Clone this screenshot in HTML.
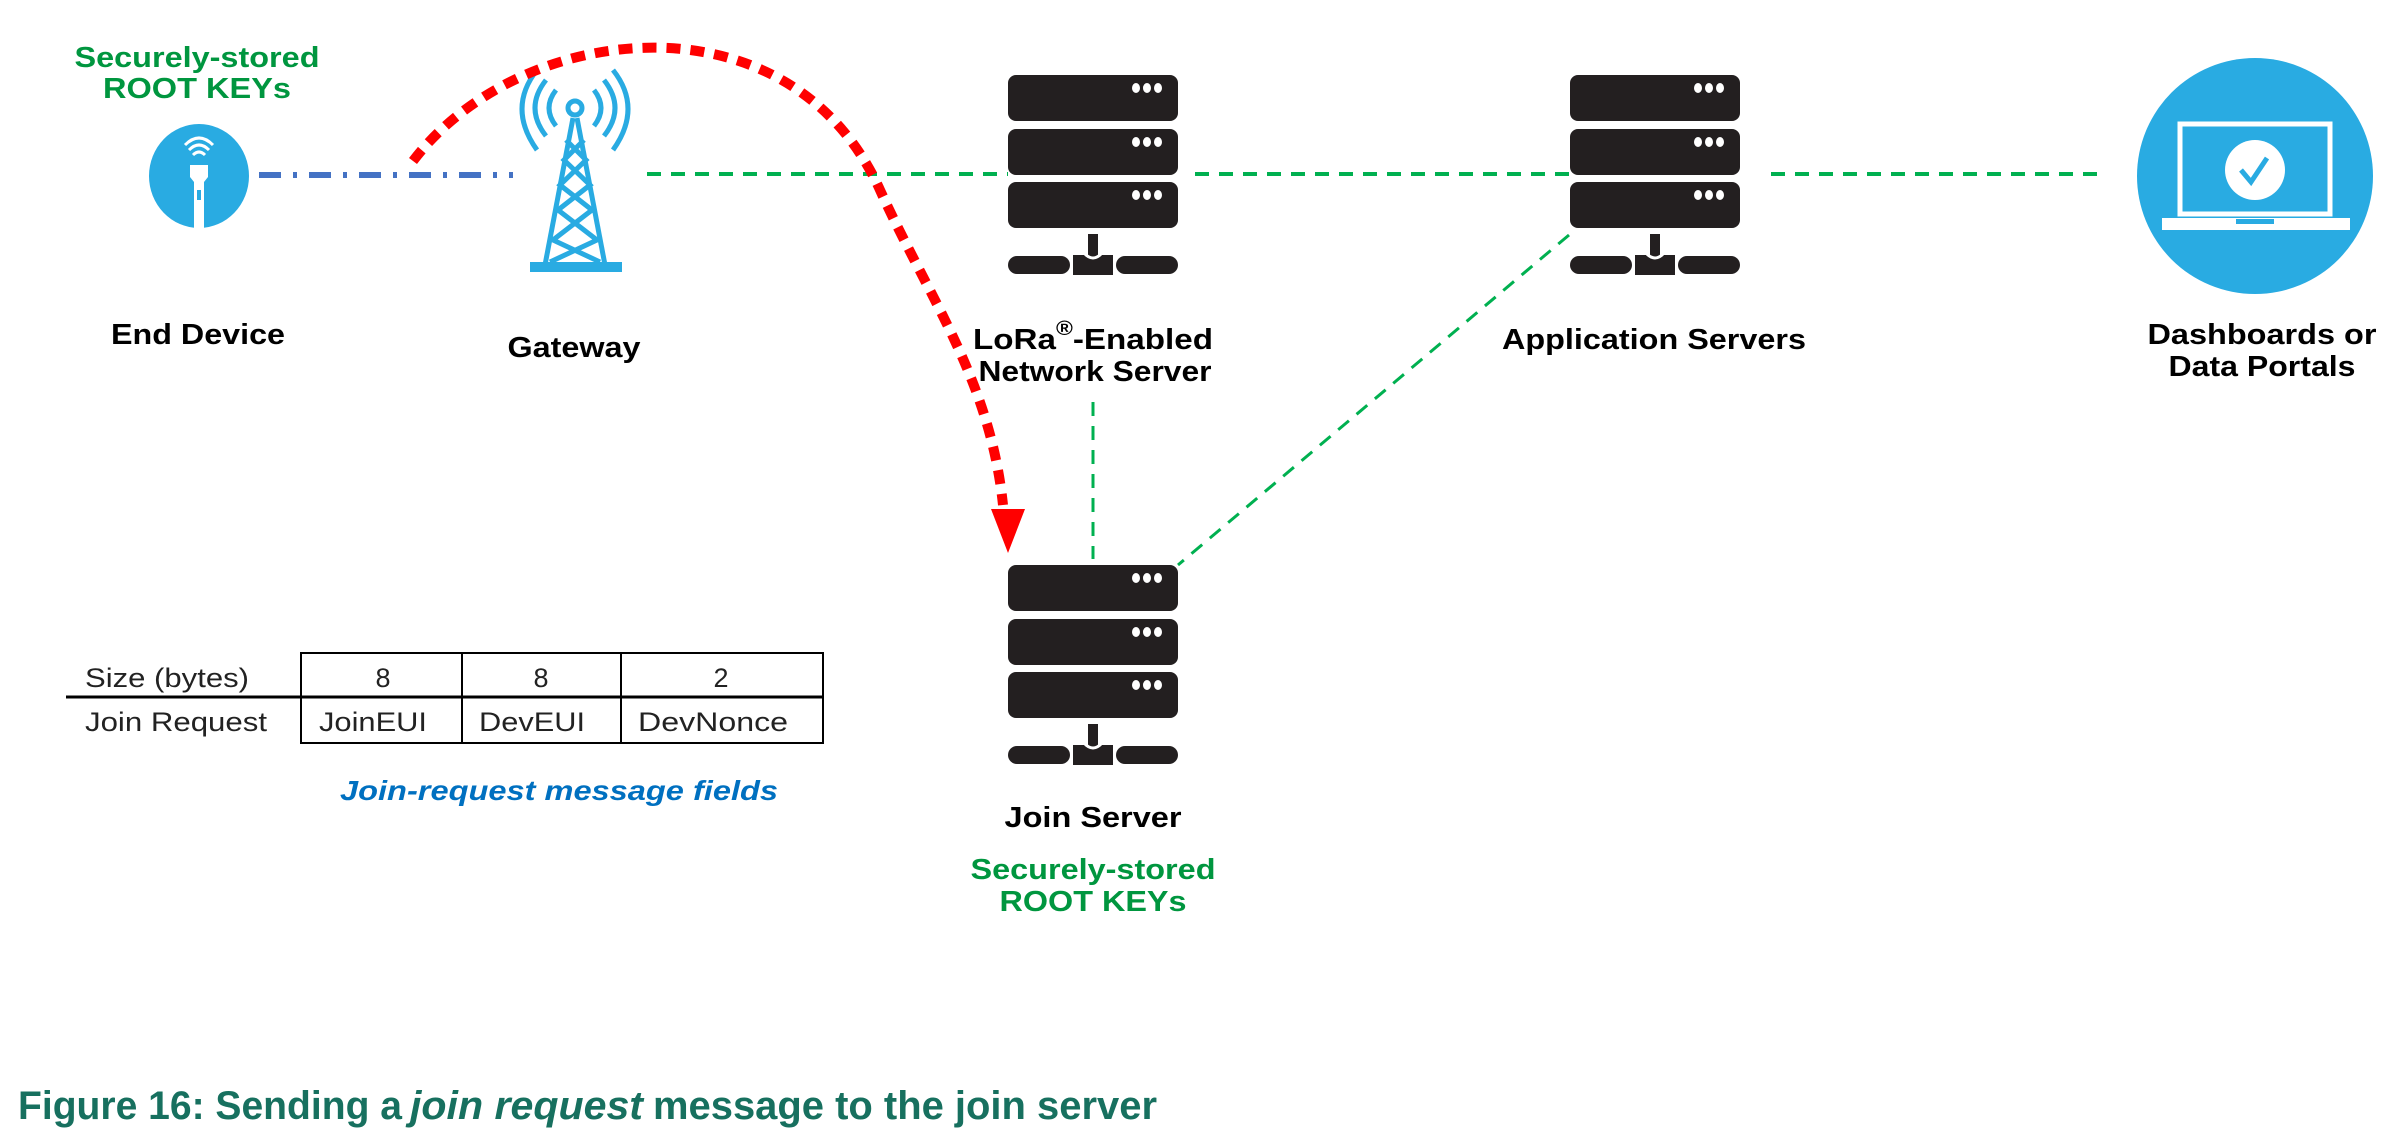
<!DOCTYPE html>
<html><head><meta charset="utf-8"><style>
html,body{margin:0;padding:0;background:#fff;width:2406px;height:1142px;overflow:hidden}
svg{display:block}
.b{font-family:"Liberation Sans",sans-serif;font-weight:bold}
</style></head><body>
<svg width="2406" height="1142" viewBox="0 0 2406 1142" xmlns="http://www.w3.org/2000/svg">
<defs>
<g id="srv">
 <rect x="0" y="0" width="170" height="46" rx="8" fill="#231f20"/>
 <rect x="0" y="54" width="170" height="46" rx="8" fill="#231f20"/>
 <rect x="0" y="107" width="170" height="46" rx="8" fill="#231f20"/>
 <g fill="#fff">
  <ellipse cx="128" cy="13" rx="4" ry="5"/><ellipse cx="139" cy="13" rx="4" ry="5"/><ellipse cx="150" cy="13" rx="4" ry="5"/>
  <ellipse cx="128" cy="67" rx="4" ry="5"/><ellipse cx="139" cy="67" rx="4" ry="5"/><ellipse cx="150" cy="67" rx="4" ry="5"/>
  <ellipse cx="128" cy="120" rx="4" ry="5"/><ellipse cx="139" cy="120" rx="4" ry="5"/><ellipse cx="150" cy="120" rx="4" ry="5"/>
 </g>
 <rect x="80" y="159" width="10" height="24" fill="#231f20"/>
 <rect x="0" y="181" width="62" height="18" rx="9" fill="#231f20"/>
 <rect x="108" y="181" width="62" height="18" rx="9" fill="#231f20"/>
 <path d="M65,180 h40 v20 h-40 z" fill="#231f20"/>
 <path d="M76,178 q9,10 18,0" stroke="#fff" stroke-width="3" fill="none"/>
</g>
</defs>

<!-- connectors -->
<line x1="259" y1="175" x2="513" y2="175" stroke="#4472c4" stroke-width="6" stroke-dasharray="22,12,4,12"/>
<line x1="647" y1="174" x2="1008" y2="174" stroke="#00b050" stroke-width="4" stroke-dasharray="14,10"/>
<line x1="1195" y1="174" x2="1569" y2="174" stroke="#00b050" stroke-width="4" stroke-dasharray="14,10"/>
<line x1="1771" y1="174" x2="2104" y2="174" stroke="#00b050" stroke-width="4" stroke-dasharray="14,10"/>
<line x1="1093" y1="402" x2="1093" y2="559" stroke="#00b050" stroke-width="3" stroke-dasharray="14,10"/>
<line x1="1569" y1="235" x2="1178" y2="565" stroke="#00b050" stroke-width="3" stroke-dasharray="14,10"/>

<!-- end device -->
<ellipse cx="199" cy="176" rx="50" ry="52" fill="#29abe2"/>
<g fill="none" stroke="#fff" stroke-width="3">
 <path d="M189,150 q10,-10 20,0"/><path d="M193,155 q6,-6 12,0"/><path d="M185,145 q14,-14 28,0"/>
</g>
<path d="M190,165 h18 v12 l-4,5 v46 h-10 v-46 l-4,-5 z" fill="#fff"/>
<rect x="197" y="190" width="4" height="10" fill="#29abe2"/>

<!-- tower -->
<g stroke="#29abe2" stroke-width="5" fill="none">
 <circle cx="575" cy="108" r="7"/>
 <line x1="573" y1="118" x2="545" y2="265"/><line x1="577" y1="118" x2="605" y2="265"/>
 <path d="M566,140 L586,160 L560,185 L592,210 L553,240 L600,262"/>
 <path d="M584,140 L564,160 L590,185 L558,210 L597,240 L550,262"/>
 <path d="M556,90 q-14,18 0,36"/><path d="M594,90 q14,18 0,36"/>
 <path d="M546,80 q-22,28 0,56"/><path d="M604,80 q22,28 0,56"/>
 <path d="M537,70 q-30,38 0,80"/><path d="M613,70 q30,38 0,80"/>
</g>
<rect x="530" y="262" width="92" height="10" fill="#29abe2"/>

<!-- servers -->
<use href="#srv" x="1008" y="75"/>
<use href="#srv" x="1570" y="75"/>
<use href="#srv" x="1008" y="565"/>

<!-- dashboard -->
<ellipse cx="2255" cy="176" rx="118" ry="118" fill="#29abe2"/>
<rect x="2180" y="124" width="150" height="90" fill="none" stroke="#fff" stroke-width="5"/>
<rect x="2162" y="218" width="188" height="12" fill="#fff"/>
<rect x="2236" y="219" width="38" height="5" fill="#29abe2"/>
<ellipse cx="2255" cy="170" rx="30" ry="30" fill="#fff"/>
<path d="M2241,170 l10,12 l16,-24" stroke="#29abe2" stroke-width="5" fill="none"/>

<!-- red arc -->
<path d="M413,161 C520,20 790,-10 880,190 C930,300 990,380 1003,505" fill="none" stroke="#ff0000" stroke-width="10" stroke-dasharray="14,10"/>
<polygon points="991,509 1025,509 1008,553" fill="#ff0000"/>

<!-- labels -->
<g class="b" font-size="29" text-anchor="middle" fill="#00963f">
 <text x="197" y="67" textLength="245" lengthAdjust="spacingAndGlyphs">Securely-stored</text>
 <text x="197" y="98" textLength="188" lengthAdjust="spacingAndGlyphs">ROOT KEYs</text>
 <text x="1093" y="879" textLength="245" lengthAdjust="spacingAndGlyphs">Securely-stored</text>
 <text x="1093" y="911" textLength="187" lengthAdjust="spacingAndGlyphs">ROOT KEYs</text>
</g>
<g class="b" font-size="29" text-anchor="middle" fill="#000">
 <text x="198" y="344" textLength="174" lengthAdjust="spacingAndGlyphs">End Device</text>
 <text x="574" y="357" textLength="133" lengthAdjust="spacingAndGlyphs">Gateway</text>
 <text x="1093" y="349" textLength="240" lengthAdjust="spacingAndGlyphs">LoRa<tspan font-size="20" dy="-14">®</tspan><tspan dy="14">-Enabled</tspan></text>
 <text x="1095" y="381" textLength="233" lengthAdjust="spacingAndGlyphs">Network Server</text>
 <text x="1654" y="349" textLength="304" lengthAdjust="spacingAndGlyphs">Application Servers</text>
 <text x="2262" y="344" textLength="229" lengthAdjust="spacingAndGlyphs">Dashboards or</text>
 <text x="2262" y="376" textLength="187" lengthAdjust="spacingAndGlyphs">Data Portals</text>
 <text x="1093" y="827" textLength="177" lengthAdjust="spacingAndGlyphs">Join Server</text>
</g>

<!-- table -->
<g stroke="#000" stroke-width="2" fill="none">
 <rect x="301" y="653" width="522" height="90"/>
 <line x1="66" y1="697" x2="823" y2="697" stroke-width="3"/>
 <line x1="462" y1="653" x2="462" y2="743"/>
 <line x1="621" y1="653" x2="621" y2="743"/>
</g>
<g font-family="'Liberation Sans',sans-serif" font-size="27" fill="#222">
 <text x="85" y="687" textLength="164" lengthAdjust="spacingAndGlyphs">Size (bytes)</text>
 <text x="85" y="731" textLength="182" lengthAdjust="spacingAndGlyphs">Join Request</text>
 <text x="383" y="687" text-anchor="middle">8</text>
 <text x="541" y="687" text-anchor="middle">8</text>
 <text x="721" y="687" text-anchor="middle">2</text>
 <text x="319" y="731" textLength="108" lengthAdjust="spacingAndGlyphs">JoinEUI</text>
 <text x="479" y="731" textLength="106" lengthAdjust="spacingAndGlyphs">DevEUI</text>
 <text x="638" y="731" textLength="150" lengthAdjust="spacingAndGlyphs">DevNonce</text>
</g>
<text x="340" y="800" class="b" font-style="italic" font-size="28" fill="#0070c0" textLength="438" lengthAdjust="spacingAndGlyphs">Join-request message fields</text>

<!-- caption -->
<g class="b" font-size="40" fill="#17705f">
 <text x="18" y="1119" textLength="384" lengthAdjust="spacingAndGlyphs">Figure 16: Sending a</text>
 <text x="410" y="1119" font-style="italic" textLength="233" lengthAdjust="spacingAndGlyphs">join request</text>
 <text x="653" y="1119" textLength="504" lengthAdjust="spacingAndGlyphs">message to the join server</text>
</g>
</svg>
</body></html>
